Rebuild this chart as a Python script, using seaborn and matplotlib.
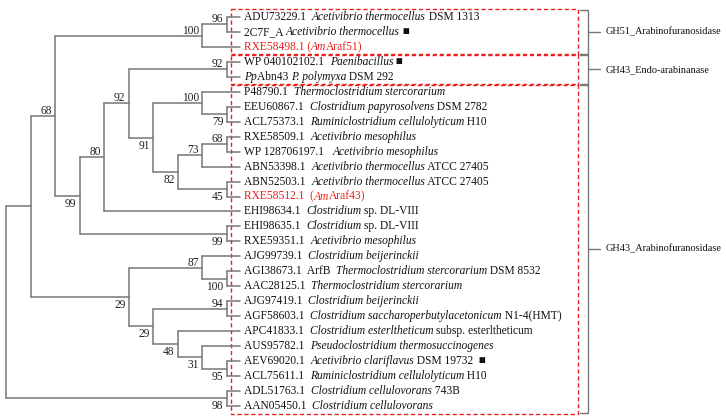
import matplotlib
matplotlib.use("Agg")
import matplotlib.pyplot as plt
import seaborn as sns
import pandas as pd

sns.set_style("white")
plt.rcParams['font.family'] = ['Liberation Serif', 'DejaVu Sans']

# leaf labels: list of (text, italic) parts
leaf_parts = [
    [("ADU73229.1  ", 0), ("Acetivibrio thermocellus", 1), (" DSM 1313", 0)],
    [("2C7F_A ", 0), ("Acetivibrio thermocellus", 1), (" ■", 0)],
    [("RXE58498.1 (", 0), ("Am", 1), ("Araf51)", 0)],
    [("WP 040102102.1  ", 0), ("Paenibacillus", 1), (" ■", 0)],
    [("Pp", 1), ("Abn43 ", 0), ("P. polymyxa", 1), (" DSM 292", 0)],
    [("P48790.1  ", 0), ("Thermoclostridium stercorarium", 1)],
    [("EEU60867.1  ", 0), ("Clostridium papyrosolvens", 1), (" DSM 2782", 0)],
    [("ACL75373.1  ", 0), ("Ruminiclostridium cellulolyticum", 1), (" H10", 0)],
    [("RXE58509.1  ", 0), ("Acetivibrio mesophilus", 1)],
    [("WP 128706197.1   ", 0), ("Acetivibrio mesophilus", 1)],
    [("ABN53398.1  ", 0), ("Acetivibrio thermocellus", 1), (" ATCC 27405", 0)],
    [("ABN52503.1  ", 0), ("Acetivibrio thermocellus", 1), (" ATCC 27405", 0)],
    [("RXE58512.1  (", 0), ("Am", 1), ("Araf43)", 0)],
    [("EHI98634.1  ", 0), ("Clostridium", 1), (" sp. DL-VIII", 0)],
    [("EHI98635.1  ", 0), ("Clostridium", 1), (" sp. DL-VIII", 0)],
    [("RXE59351.1  ", 0), ("Acetivibrio mesophilus", 1)],
    [("AJG99739.1  ", 0), ("Clostridium beijerinckii", 1)],
    [("AGI38673.1  ArfB  ", 0), ("Thermoclostridium stercorarium", 1), (" DSM 8532", 0)],
    [("AAC28125.1  ", 0), ("Thermoclostridium stercorarium", 1)],
    [("AJG97419.1  ", 0), ("Clostridium beijerinckii", 1)],
    [("AGF58603.1  ", 0), ("Clostridium saccharoperbutylacetonicum", 1), (" N1-4(HMT)", 0)],
    [("APC41833.1  ", 0), ("Clostridium esterltheticum", 1), (" subsp. esterltheticum", 0)],
    [("AUS95782.1  ", 0), ("Pseudoclostridium thermosuccinogenes", 1)],
    [("AEV69020.1  ", 0), ("Acetivibrio clariflavus", 1), (" DSM 19732  ■", 0)],
    [("ACL75611.1  ", 0), ("Ruminiclostridium cellulolyticum", 1), (" H10", 0)],
    [("ADL51763.1  ", 0), ("Clostridium cellulovorans", 1), (" 743B", 0)],
    [("AAN05450.1  ", 0), ("Clostridium cellulovorans", 1)],
]
red_leaves = [2, 12]

# topology: nested tuples (bootstrap, depth_level, children); ints are leaf indices
tree = (None, 0, [
    (None, 1, [
        (68, 2, [
            (100, 8, [(96, 9, [0, 1]), 2]),
            (99, 3, [
                (80, 4, [
                    (92, 5, [
                        (92, 9, [3, 4]),
                        (91, 6, [
                            (100, 8, [5, (79, 9, [6, 7])]),
                            (82, 7, [
                                (73, 8, [(68, 9, [8, 9]), 10]),
                                (45, 9, [11, 12]),
                            ]),
                        ]),
                    ]),
                    13,
                ]),
                (99, 9, [14, 15]),
            ]),
        ]),
        (29, 5, [
            (87, 8, [16, (100, 9, [17, 18])]),
            (29, 6, [
                (94, 9, [19, 20]),
                (48, 7, [21, (31, 8, [22, (95, 9, [23, 24])])]),
            ]),
        ]),
    ]),
    (98, 9, [25, 26]),
])
# bootstraps shown below branch (others above)
below = {(99, 3), (91, 6), (82, 7), (45, 9), (79, 9), (99, 9), (100, 9), (29, 5), (29, 6), (48, 7), (31, 8), (95, 9), (98, 9)}

groups = ["GH51_Arabinofuranosidase", "GH43_Endo-arabinanase", "GH43_Arabinofuranosidase"]
group_ranges = [(0, 2), (3, 4), (5, 26)]

X0, DX, XLEAF = 6, 24.5, 240
Y0, DY = 17, 14.96
segs = []
labels = []

def lx(level):
    return X0 + DX * level

def layout(node, parent_x):
    if isinstance(node, int):
        y = Y0 + DY * node
        segs.append((parent_x, y, XLEAF, y))
        return y
    bs, lev, kids = node
    x = lx(lev)
    ys = [layout(k, x) for k in kids]
    y = (ys[0] + ys[-1]) / 2
    segs.append((x, ys[0], x, ys[-1]))
    if parent_x is not None:
        segs.append((parent_x, y, x, y))
        if bs is not None:
            labels.append((x - 3, y + (8 if (bs, lev) in below else -5), bs))
    return y

layout(tree, None)
rows = []
for i, (x1, y1, x2, y2) in enumerate(segs):
    rows += [dict(seg=i, x=x1, y=y1), dict(seg=i, x=x2, y=y2)]
df = pd.DataFrame(rows)

fig = plt.figure(figsize=(7.26, 4.18), dpi=100)
ax = fig.add_axes([0, 0, 1, 1])
sns.lineplot(data=df, x="x", y="y", units="seg", estimator=None, sort=False,
             color="#777777", lw=1.1, ax=ax, legend=False)
ax.set_xlim(0, 726)
ax.set_ylim(418, 0)
ax.axis("off")

FS = 8.3
for x, y, b in labels:
    ax.text(x, y, str(b), ha="right", va="center", fontsize=FS, color="#222222")

fig.canvas.draw()
r = fig.canvas.get_renderer()
inv = ax.transData.inverted()
for i, parts in enumerate(leaf_parts):
    y = Y0 + DY * i
    x = 244
    col = "#e8201b" if i in red_leaves else "#111111"
    for txt, it in parts:
        t = ax.text(x, y, txt, ha="left", va="center", fontsize=FS, color=col,
                    style="italic" if it else "normal")
        bb = t.get_window_extent(r)
        x = inv.transform((bb.x1, bb.y0))[0]

for (a, b), name in zip(group_ranges, groups):
    y1 = Y0 + DY * a - 8
    y2 = Y0 + DY * b + 8
    ax.add_patch(plt.Rectangle((231, y1), 347, y2 - y1, fill=False, ec="#e8201b",
                               ls=(0, (3, 2)), lw=1))
    ax.plot([580, 588, 588, 580], [y1 + 1, y1 + 1, y2 - 1, y2 - 1], color="#777777", lw=1)
    ax.plot([588, 600], [(y1 + y2) / 2] * 2, color="#777777", lw=1)
    ax.text(606, (y1 + y2) / 2, name, ha="left", va="center", fontsize=7.4, color="#111111")

fig.savefig("out.png", dpi=100)
